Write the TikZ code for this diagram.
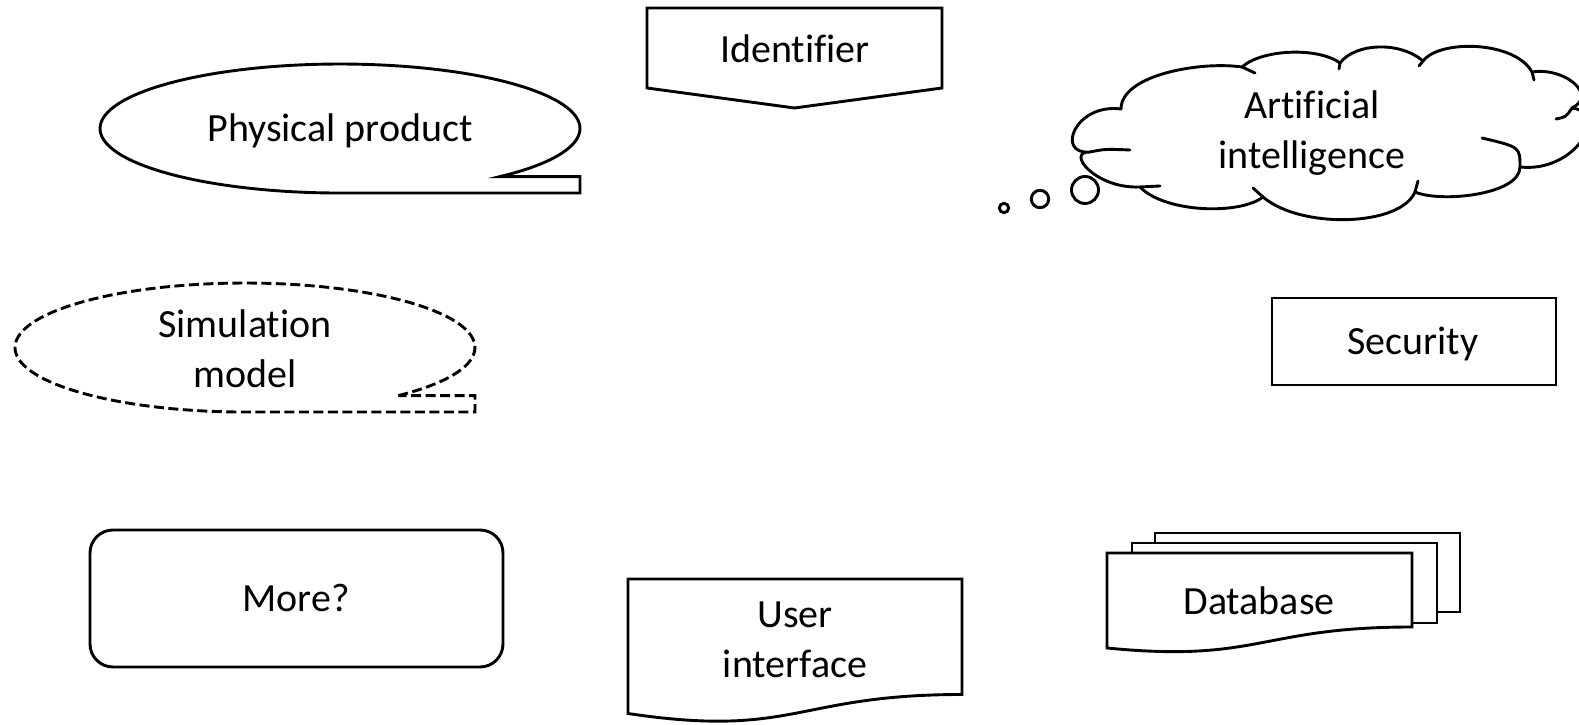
\documentclass[tikz,border=0pt]{standalone}
\usepackage{fontspec}
\setmainfont{Carlito}[Ligatures=NoCommon]
\begin{document}
\begin{tikzpicture}[x=1pt,y=1pt,
  shapeline/.style={line width=2.9pt},
  dashline/.style={dash pattern=on 10pt off 4.5pt},
  txt/.style={font=\fontsize{40}{50}\selectfont, align=center,
              text height=26pt, text depth=0pt, inner sep=0pt},
  txttwo/.style={txt, text height=76pt}]
\clip (0,0) rectangle (1579,725);

% Identifier: off-page connector
\draw[shapeline] (647,717) -- (942,717) -- (942,637) -- (794.5,617) -- (647,637) -- cycle;
\node[txt] (identifier) at (795,675) {Identifier};

% Physical product: oval callout with a tail to the right
\draw[shapeline] (500,548.4)
  arc[start angle=-48.19, end angle=270, x radius=240, y radius=64.5]
  -- (580,532) -- (580,548.4) -- cycle;
\node[txt] (physical) at (340,596) {Physical product};

% Simulation model: dashed oval callout
\draw[shapeline, dashline] (398.3,329.4)
  arc[start angle=-48.19, end angle=270, x radius=230, y radius=64.5]
  -- (475,313) -- (475,329.4) -- cycle;
\node[txttwo] (simulation) at (245,375) {Simulation\\model};

% Security
\draw[shapeline] (1272,340) rectangle (1556,427);
\node[txt] (security) at (1413,383) {Security};

% More?
\draw[shapeline, rounded corners=23pt] (90,58) rectangle (503,195);
\node[txt] (more) at (296,126) {More?};

% User interface: document shape
\draw[shapeline] (628,146) -- (962,146) -- (962,30.5)
  .. controls (795,30.5) and (795,-13.5) .. (628,11.5) -- cycle;
\node[txttwo] (ui) at (795,85) {User\\interface};

% Database: stacked documents
\draw[shapeline] (1155,182) -- (1155,192) -- (1460,192) -- (1460,113) -- (1437,113);
\draw[shapeline] (1132,172) -- (1132,182) -- (1437,182) -- (1437,102) -- (1412,102);
\draw[shapeline] (1107,172) -- (1412,172) -- (1412,98)
  .. controls (1259.5,98) and (1259.5,62) .. (1107,77) -- cycle;
\node[txt] (database) at (1259,123) {Database};

% Artificial intelligence: thought cloud
\draw[shapeline, line join=round]
  (1090,573) .. controls (1055,570) and (1075,622) .. (1121,616)
  .. controls (1121,650) and (1200,664) .. (1242,658)
  .. controls (1262,676) and (1318,678) .. (1340,662)
  .. controls (1355,682) and (1400,684) .. (1423,664)
  .. controls (1440,686) and (1515,684) .. (1532,653)
  .. controls (1565,658) and (1598,630) .. (1572,617)
  .. controls (1610,612) and (1575,552) .. (1520,558)
  .. controls (1520,530) and (1440,522) .. (1415,533)
  .. controls (1400,498) and (1300,496) .. (1263,528)
  .. controls (1240,510) and (1165,512) .. (1140,538)
  .. controls (1095,536) and (1065,574) .. cycle;
% inner creases of the cloud
\draw[shapeline, line cap=round]
  (1090,573) .. controls (1105,576) .. (1130,575)
  (1140,538) -- (1160,539)
  (1263,528) -- (1253,537)
  (1415,533) -- (1418,544)
  (1520,558) .. controls (1520,578) .. (1482,587)
  (1572,617) .. controls (1566,608) .. (1556,606)
  (1532,653) -- (1534,645)
  (1423,664) -- (1419,659)
  (1340,662) -- (1339,656)
  (1242,658) -- (1255,652);
\node[txttwo] (ai) at (1312,594) {Artificial\\intelligence};

% thought bubbles
\draw[shapeline] (1004,517) circle[radius=4.7];
\draw[shapeline] (1040,526) circle[radius=8.7];
\draw[shapeline] (1085,535) circle[radius=13.5];
\end{tikzpicture}
\end{document}
